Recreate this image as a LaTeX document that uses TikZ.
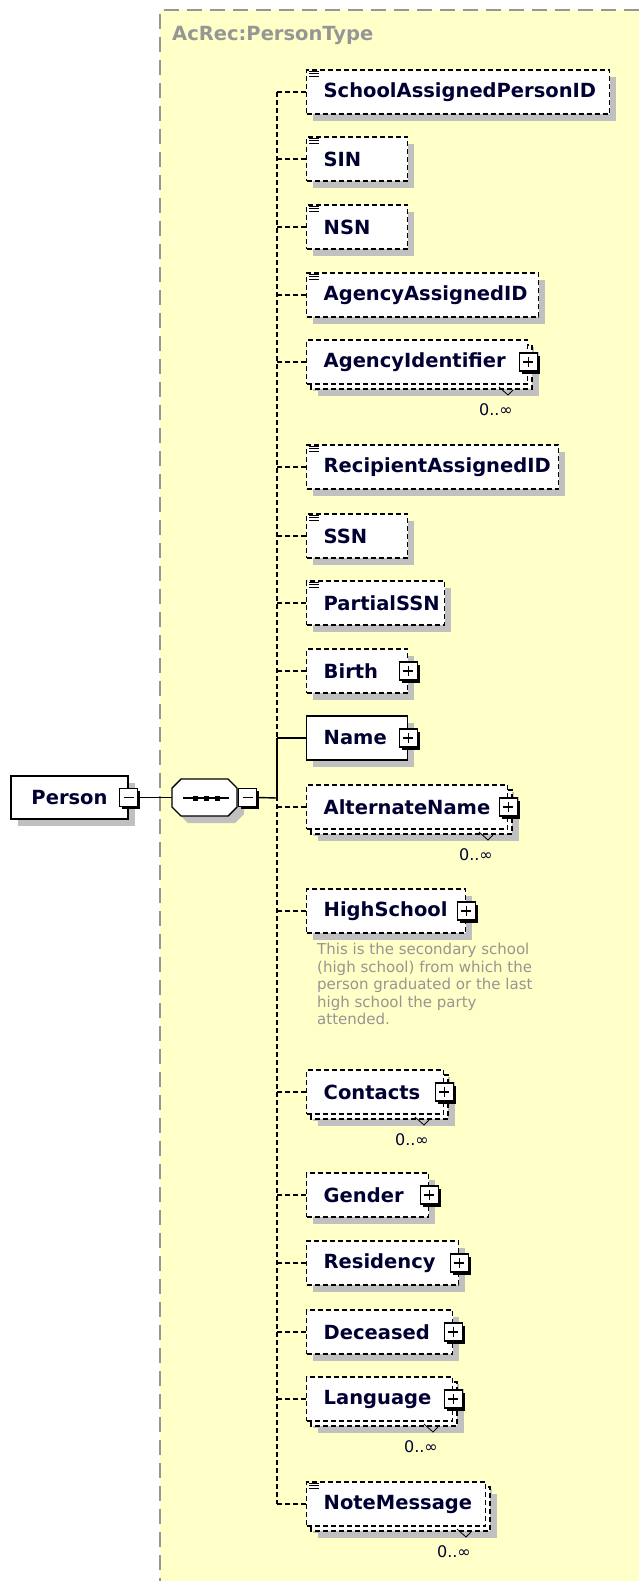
\documentclass[tikz,border=0pt]{standalone}
\usepackage{fontspec}
\setmainfont{DejaVu Sans}
\usetikzlibrary{positioning,shadows}
\definecolor{panel}{RGB}{255,255,200}
\definecolor{shadowgrey}{RGB}{192,192,192}
\definecolor{ink}{RGB}{0,0,51}
\definecolor{titlegrey}{RGB}{150,150,150}
\definecolor{greytext}{RGB}{150,150,145}
\newcommand\elemfont{\fontsize{19.5pt}{22pt}\selectfont\bfseries}
\newcommand\elemlist{SchoolAssignedPersonID/92/609/optional, SIN/159/407/optional,
  NSN/227/407/optional, AgencyAssignedID/295/538/optional, AgencyIdentifier/362/527/optional,
  RecipientAssignedID/467/558/optional, SSN/536/407/optional, PartialSSN/603/444/optional,
  Birth/671/407/optional, Name/738/407/required, AlternateName/807/507/optional,
  HighSchool/911/465/optional, Contacts/1092/443/optional, Gender/1195/428/optional,
  Residency/1263/458/optional, Deceased/1332/452/optional, Language/1399/452/optional,
  NoteMessage/1504/485/optional}
\tikzset{
  optional/.style={dash pattern=on 5pt off 3pt},
  required/.style={solid},
  conn/.style={line width=1.4pt},
  elembox/.style={draw,fill=white,line width=1.4pt,minimum height=44pt,inner xsep=17pt,
    inner ysep=0pt,anchor=west,align=left,font=\elemfont,text=ink},
  btn/.style={draw,solid,fill=white,line width=1.1pt,minimum size=18pt,inner sep=0pt,
    drop shadow={shadow xshift=2.5pt,shadow yshift=-2.5pt,fill=black,opacity=1}},
  minusbtn/.style={btn,path picture={
    \draw[line width=1.3pt] ([xshift=4pt]path picture bounding box.west) -- ([xshift=-4pt]path picture bounding box.east);}},
  plusbtn/.style={btn,path picture={
    \draw[line width=1.3pt] ([xshift=4pt]path picture bounding box.west) -- ([xshift=-4pt]path picture bounding box.east);
    \draw[line width=1.3pt] ([yshift=-4pt]path picture bounding box.north) -- ([yshift=4pt]path picture bounding box.south);}},
  card/.style={font=\fontsize{16pt}{18pt}\selectfont,text=ink,inner sep=0pt,anchor=east},
}

\begin{document}
\begin{tikzpicture}[x=1pt,y=-1pt]
  \useasboundingbox (0,0) rectangle (639,1581);
  \fill[panel] (160,10) rectangle (639,1581);
  \draw[titlegrey,line width=1.5pt,dash pattern=on 15pt off 8pt] (639,10) -- (160,10) -- (160,1581);
  \node[anchor=base west,inner sep=0pt,font=\elemfont,text=titlegrey] (ptype) at (172,41) {AcRec:PersonType};
  \coordinate (hub) at (277,798);

  \foreach \lbl/\y/\r/\st in \elemlist {\fill[shadowgrey] (313,\y-15) rectangle (\r+7,\y+29);}
  \foreach \lbl/\y/\r in {AgencyIdentifier/362/527,AlternateName/807/507,Contacts/1092/443,Language/1399/452,NoteMessage/1504/485} {
    \fill[shadowgrey] (318,\y-10) rectangle (\r+12,\y+34);
    \draw[optional,line width=1.4pt,fill=white] (311,\y-17) rectangle (\r+5,\y+27);
    \draw[line width=.8pt] (\r-28,\y+25) -- ++(9,8) -- ++(5,-5);
    \node[card] (\lbl-card) at (\r-14,\y+48) {0..∞};
  }
  \foreach \lbl/\y/\r/\st in \elemlist {
    \pgfmathsetmacro\tw{\r-306-34}
    \node[elembox,\st,text width=\tw pt] (\lbl) at (306,\y) {\lbl};
    \draw[conn,\st] (\lbl.west) -- (\lbl.west -| hub);
  }
  \draw[conn,optional] (SchoolAssignedPersonID.west -| hub) -- (NoteMessage.west -| hub);
  \draw[conn] (Name.west -| hub) -- (hub);

  \foreach \lbl in {SchoolAssignedPersonID,SIN,NSN,AgencyAssignedID,RecipientAssignedID,SSN,PartialSSN,NoteMessage}
    {\foreach \k in {2,4.5,7} {\draw[line width=.9pt] ([shift={(3,\k)}]\lbl.north west) -- ++(10,0);}}
  \foreach \lbl in {AgencyIdentifier,Birth,Name,AlternateName,HighSchool,Contacts,Gender,Residency,Deceased,Language}
    {\node[plusbtn] (\lbl-plus) at (\lbl.east) {};}

  \node[anchor=north west,align=left,inner sep=0pt,font=\fontsize{15pt}{17.5pt}\selectfont,text=greytext] (HighSchool-doc) at (317,943)
    {This is the secondary school\\(high school) from which the\\person graduated or the last\\high school the party\\attended.};

  \fill[shadowgrey] (18,783) rectangle (135,826);
  \node[draw,fill=white,line width=1.4pt,minimum width=117pt,minimum height=43pt,inner sep=0pt,font=\elemfont,text=ink] (person) at (69.5,797.5) {Person};
  \node[minusbtn] (person-x) at (person.east) {};
  \fill[shadowgrey] (188,786) -- (235,786) -- (244,795) -- (244,814) -- (235,823) -- (188,823) -- (179,814) -- (179,795) -- cycle;
  \draw[line width=1.4pt,fill=white] (181,779) -- (228,779) -- (237,788) -- (237,807) -- (228,816) -- (181,816) -- (172,807) -- (172,788) -- cycle;
  \node[minimum width=65pt,minimum height=37pt,inner sep=0pt] (seq) at (204.5,797.5) {};
  \draw[line width=1.4pt] (183,798) -- (229,798);
  \foreach \X in {195,206,217} {\fill (\X-2.5,795.5) rectangle (\X+2.5,800.5);}
  \node[minusbtn,anchor=west] (seq-x) at ([xshift=1pt]seq.east) {};
  \draw[conn] (person-x.east) -- (seq.west);
  \draw[conn] (seq-x.east) -- (hub);
\end{tikzpicture}
\end{document}
